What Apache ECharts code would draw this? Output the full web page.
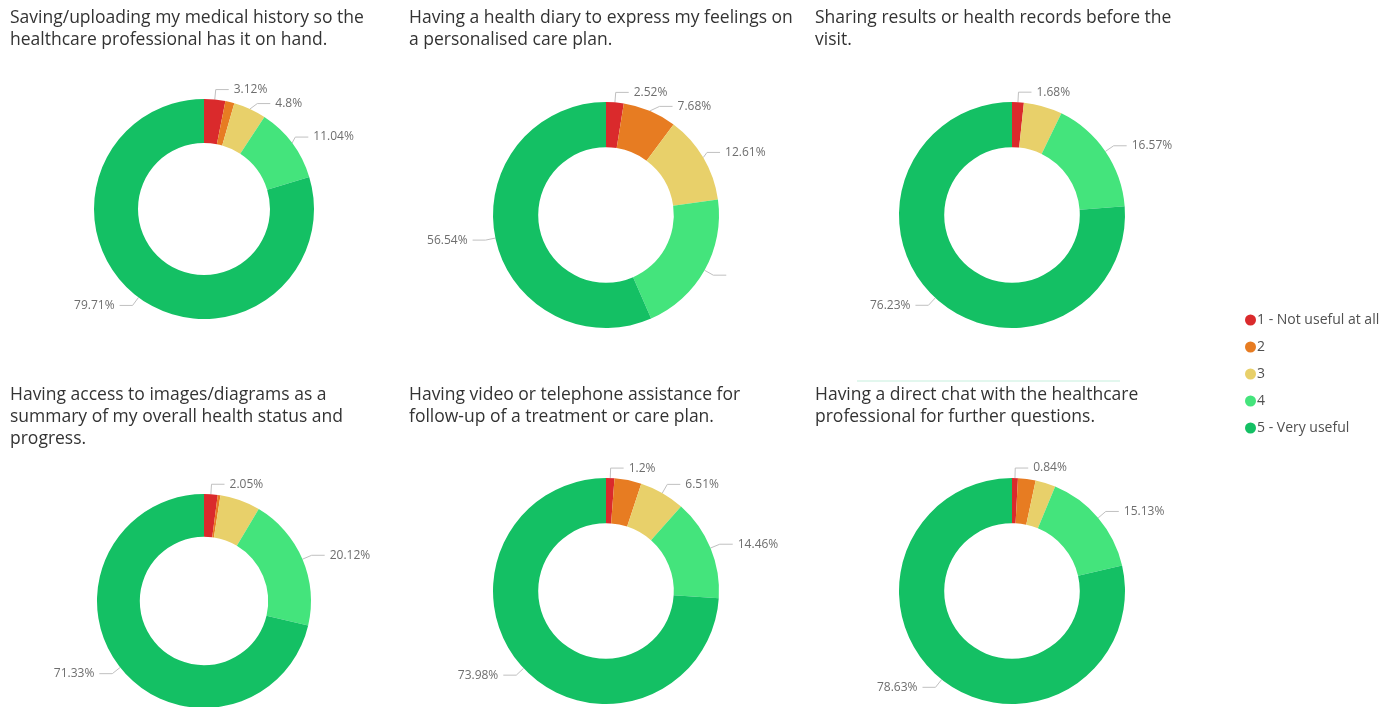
<!DOCTYPE html>
<html>
<head>
<meta charset="utf-8">
<script src="https://cdn.jsdelivr.net/npm/echarts@6/dist/echarts.min.js"></script>
<style>
html,body{margin:0;padding:0;background:#fff;}
#main{width:1394px;height:707px;}
</style>
</head>
<body>
<div id="main"></div>
<script>
// ---- data ----
const categories = ['1 - Not useful at all', '2', '3', '4', '5 - Very useful'];
const titles = [
  'Saving/uploading my medical history so the\nhealthcare professional has it on hand.',
  'Having a health diary to express my feelings on\na personalised care plan.',
  'Sharing results or health records before the\nvisit.',
  'Having access to images/diagrams as a\nsummary of my overall health status and\nprogress.',
  'Having video or telephone assistance for\nfollow-up of a treatment or care plan.',
  'Having a direct chat with the healthcare\nprofessional for further questions.'
];
const values1 = [3.12, 1.33, 4.8, 11.04, 79.71];
const values2 = [2.52, 7.68, 12.61, 20.65, 56.54];
const values3 = [1.68, 0, 5.52, 16.57, 76.23];
const values4 = [2.05, 0.42, 6.08, 20.12, 71.33];
const values5 = [1.2, 3.85, 6.51, 14.46, 73.98];
const values6 = [0.84, 2.52, 2.88, 15.13, 78.63];
// which data labels are displayed (1 = shown, 2 = line only, 0 = hidden)
const shown1 = [1, 0, 1, 1, 1];
const shown2 = [1, 1, 1, 2, 1];
const shown3 = [1, 0, 0, 1, 1];
const shown4 = [1, 0, 0, 1, 1];
const shown5 = [1, 0, 1, 1, 1];
const shown6 = [1, 0, 0, 1, 1];

// ---- styling / layout ----
const colors = ['#DA2A2C', '#E77C22', '#E8D06A', '#44E47C', '#14C064'];
const allValues = [values1, values2, values3, values4, values5, values6];
const allShown = [shown1, shown2, shown3, shown4, shown5, shown6];
const layout = [
  {c: [204, 209], r: 110, tx: 10, ty: 7},
  {c: [606, 215], r: 113, tx: 409, ty: 7},
  {c: [1012, 215], r: 113, tx: 815, ty: 7},
  {c: [204, 601], r: 107, tx: 10, ty: 384},
  {c: [606, 591], r: 113, tx: 409, ty: 384},
  {c: [1012, 591], r: 113, tx: 815, ty: 384}
];

const chart = echarts.init(document.getElementById('main'));

const series = allValues.map((vals, i) => ({
  type: 'pie',
  center: layout[i].c,
  radius: [layout[i].r * 0.6, layout[i].r],
  startAngle: 90,
  clockwise: true,
  avoidLabelOverlap: true,
  silent: true,
  label: {
    color: '#6E6E6E',
    fontFamily: 'Open Sans',
    fontSize: 12,
    formatter: p => p.value + '%'
  },
  labelLine: {
    length: 10,
    length2: 13,
    lineStyle: {color: '#C0C0C0', width: 1}
  },
  data: categories.map((name, k) => {
    const s = allShown[i][k];
    const d = {name: name, value: vals[k], itemStyle: {color: colors[k]}};
    if (s === 0) {
      d.label = {show: false};
      d.labelLine = {show: false};
    } else if (s === 2) {
      d.label = {show: true, formatter: ' '};
    }
    return d;
  })
}));

const titleOpts = titles.map((t, i) => ({
  text: t,
  left: layout[i].tx,
  top: layout[i].ty,
  padding: 0,
  textStyle: {
    fontFamily: 'Open Sans',
    fontSize: 17.5,
    fontWeight: 'normal',
    color: '#333333',
    lineHeight: 22
  }
}));

chart.setOption({
  backgroundColor: '#ffffff',
  animation: false,
  title: titleOpts,
  legend: {
    orient: 'vertical',
    left: 1240,
    top: 308,
    icon: 'circle',
    itemWidth: 11,
    itemHeight: 11,
    itemGap: 13,
    data: categories.map((c, k) => ({name: c, itemStyle: {color: colors[k]}})),
    textStyle: {
      fontFamily: 'Open Sans',
      fontSize: 14,
      color: '#505050',
      padding: [0, 0, 0, -4]
    }
  },
  graphic: [{
    type: 'line',
    shape: {x1: 857, y1: 381, x2: 1120, y2: 381},
    style: {stroke: '#C6EFDD', lineWidth: 1}
  }],
  series: series
});
</script>
</body>
</html>
